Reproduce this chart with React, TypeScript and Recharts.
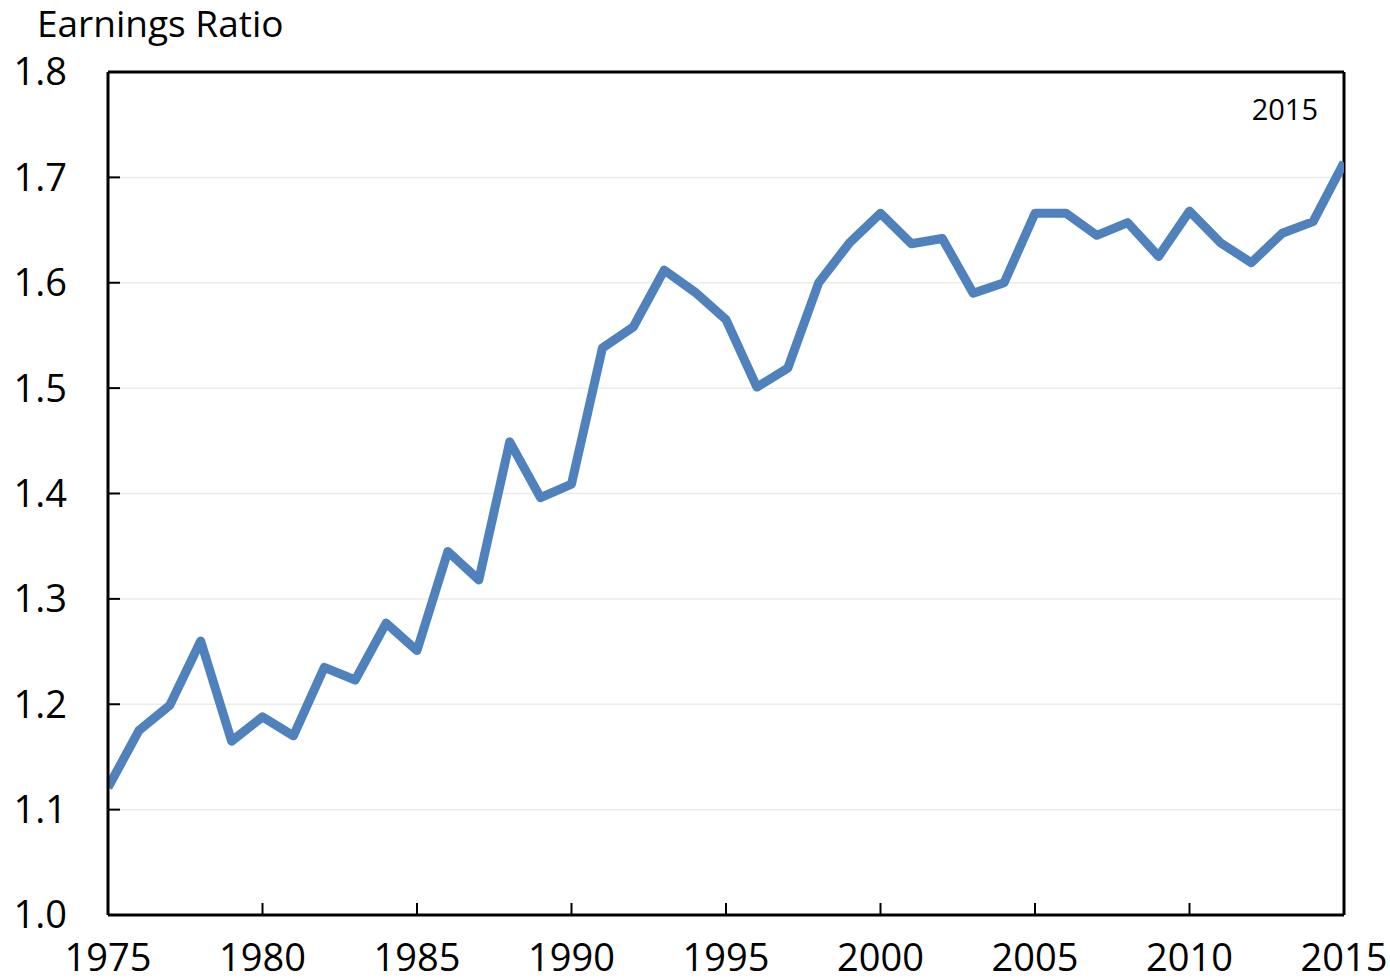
import React from 'react';
import { LineChart, Line, XAxis, YAxis, CartesianGrid, ReferenceLine } from 'recharts';

const years = [
  1975, 1976, 1977, 1978, 1979, 1980, 1981, 1982, 1983, 1984,
  1985, 1986, 1987, 1988, 1989, 1990, 1991, 1992, 1993, 1994,
  1995, 1996, 1997, 1998, 1999, 2000, 2001, 2002, 2003, 2004,
  2005, 2006, 2007, 2008, 2009, 2010, 2011, 2012, 2013, 2014, 2015,
];

const earningsRatio = [
  1.121, 1.175, 1.199, 1.26, 1.165, 1.188, 1.17, 1.235, 1.223, 1.277,
  1.251, 1.345, 1.318, 1.449, 1.396, 1.409, 1.538, 1.558, 1.612, 1.591,
  1.565, 1.501, 1.519, 1.6, 1.638, 1.666, 1.637, 1.642, 1.59, 1.6,
  1.666, 1.666, 1.645, 1.657, 1.625, 1.668, 1.638, 1.619, 1.647, 1.658, 1.714,
];

const xTicks = [1975, 1980, 1985, 1990, 1995, 2000, 2005, 2010, 2015];
const yTicks = [1.0, 1.1, 1.2, 1.3, 1.4, 1.5, 1.6, 1.7, 1.8];

const yTitle = 'Earnings Ratio';
const endNote = '2015';

const data = years.map((year, i) => ({ year, ratio: earningsRatio[i] }));

const FONT = '"Open Sans", sans-serif';

export default function App() {
  return (
    <div style={{ position: 'absolute', left: 0, top: 0, width: 1390, height: 979, background: '#fff', fontFamily: FONT }}>
      <LineChart
        width={1390}
        height={979}
        data={data}
        margin={{ top: 72, right: 46, bottom: 0, left: 8 }}
      >
        <CartesianGrid vertical={false} stroke="#ebebeb" strokeWidth={1.5} />
        <XAxis
          dataKey="year"
          type="number"
          domain={[1975, 2015]}
          ticks={xTicks}
          interval={0}
          allowDataOverflow
          height={64}
          tickSize={-12}
          tickMargin={41}
          axisLine={{ stroke: '#000', strokeWidth: 3 }}
          tickLine={{ stroke: '#000', strokeWidth: 2 }}
          tick={{ fill: '#000', fontSize: 38, fontFamily: FONT }}
        />
        <YAxis
          type="number"
          domain={[1.0, 1.8]}
          ticks={yTicks}
          interval={0}
          width={100}
          tickSize={-12}
          tickMargin={53}
          tickFormatter={(v: number) => v.toFixed(1)}
          axisLine={{ stroke: '#000', strokeWidth: 3 }}
          tickLine={{ stroke: '#000', strokeWidth: 2 }}
          tick={{ fill: '#000', fontSize: 38, fontFamily: FONT }}
        />
        <ReferenceLine y={1.8} stroke="#000" strokeWidth={3} />
        <ReferenceLine x={2015} stroke="#000" strokeWidth={3} />
        <Line
          type="linear"
          dataKey="ratio"
          stroke="#4f81bd"
          strokeWidth={9}
          strokeLinejoin="round"
          dot={false}
          activeDot={false}
          isAnimationActive={false}
        />
      </LineChart>
      <svg
        width={1390}
        height={979}
        style={{ position: 'absolute', left: 0, top: 0, pointerEvents: 'none' }}
      >
        <text x={37} y={37} fontSize={37} fontFamily={FONT} fill="#000">{yTitle}</text>
        <text x={1318} y={120} fontSize={29} fontFamily={FONT} fill="#000" textAnchor="end">{endNote}</text>
      </svg>
    </div>
  );
}
